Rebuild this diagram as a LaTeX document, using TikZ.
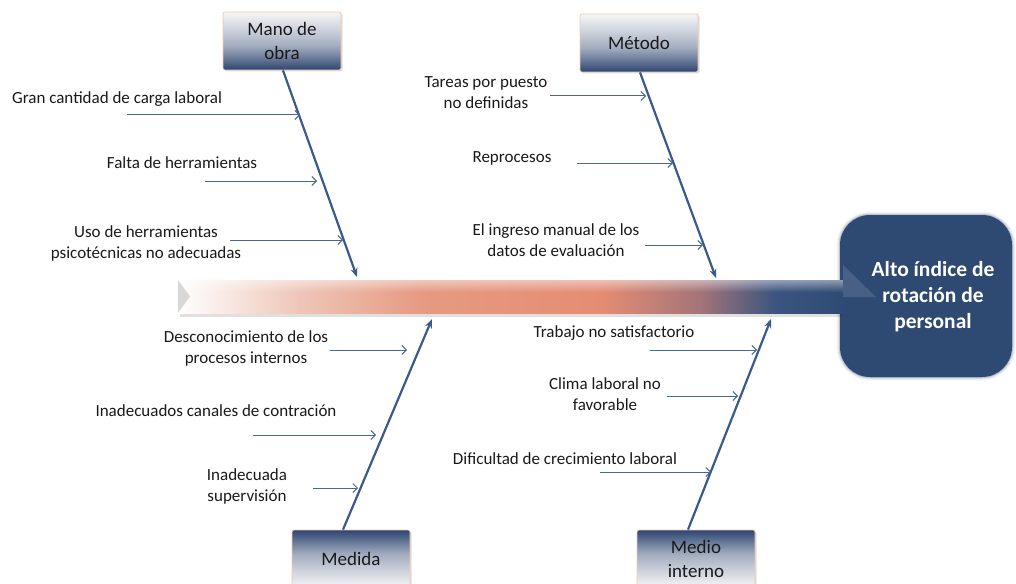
\documentclass[tikz,border=0pt]{standalone}
\usepackage{fontspec}
\setmainfont{Carlito}
\usetikzlibrary{arrows.meta,shadows,fadings}

\definecolor{bonecol}{HTML}{3A5A8C}
\definecolor{causecol}{HTML}{4A6894}
\definecolor{effectcol}{HTML}{2F4A72}
\definecolor{boxnavy}{HTML}{2C4470}
\definecolor{boxmidA}{HTML}{5C6E90}
\definecolor{boxmidB}{HTML}{A3ADBF}
\definecolor{boxmidC}{HTML}{D3D7E0}
\definecolor{boxlight}{HTML}{F6F6F8}
\definecolor{boxedge}{HTML}{F0C9AE}
\definecolor{salmonA}{HTML}{EEC6B8}
\definecolor{salmonB}{HTML}{E69A83}
\definecolor{salmonC}{HTML}{E58D73}
\definecolor{dusk}{HTML}{A47478}
\definecolor{spinenavy}{HTML}{3B5580}
\definecolor{notchgrey}{HTML}{D8D8D8}

% light top, dark bottom (upper category boxes)
\pgfdeclareverticalshading{lightontop}{100bp}{color(0bp)=(boxnavy); color(25bp)=(boxnavy);
  color(33bp)=(boxmidA); color(46bp)=(boxmidB); color(62bp)=(boxmidC); color(75bp)=(boxlight); color(100bp)=(boxlight)}
% dark top, light bottom (lower category boxes)
\pgfdeclareverticalshading{darkontop}{100bp}{color(0bp)=(boxlight); color(25bp)=(boxlight);
  color(38bp)=(boxmidC); color(54bp)=(boxmidB); color(67bp)=(boxmidA); color(75bp)=(boxnavy); color(100bp)=(boxnavy)}

\tikzset{
  catbox/.style={draw=boxedge, line width=0.8pt, rounded corners=2pt,
    minimum width=118pt, minimum height=58pt, inner sep=0pt, align=center,
    font=\fontsize{19}{24}\selectfont, text=black!90,
    drop shadow={opacity=0.25, shadow xshift=1.5pt, shadow yshift=-1.5pt}},
  cattop/.style={catbox, shading=lightontop},
  catbottom/.style={catbox, shading=darkontop},
  causetext/.style={inner sep=0pt, align=center, text=black!90,
    font=\fontsize{17}{21}\selectfont},
  bonearrow/.style={draw=bonecol, line width=2.2pt,
    -{Stealth[length=9pt, width=7pt]}},
  causearrow/.style={draw=causecol, line width=1pt,
    -{Straight Barb[length=4.5pt, width=9pt]}},
  effectbox/.style={fill=effectcol, rounded corners=30pt, minimum width=172pt,
    minimum height=162pt, inner sep=0pt, align=center, text=white,
    font=\fontsize{21.5}{26}\selectfont\bfseries}
}

\begin{document}
\begin{tikzpicture}[x=1pt, y=-1pt]
\useasboundingbox (0,0) rectangle (1016,583);

% effect box with a soft halo
\foreach \w/\o in {7/0.06, 5/0.1, 3/0.16, 1.5/0.25}
  \draw[draw=boxmidA, line width=\w pt, opacity=\o, rounded corners=30pt]
    (840,215) rectangle (1012,377);
\node[effectbox] (effect) at (926,296) {};
\node[inner sep=0pt, align=center, text=white,
  font=\fontsize{21.5}{26}\selectfont\bfseries] (effecttext) at (933,297)
  {Alto índice de\\rotación de\\personal};

% spine: shadow, graded shaft, notch and head
\fill[black, opacity=0.12] (180,313) rectangle (846,317);
\begin{scope}
  \clip (178,280) rectangle (846,313);
  \shade[left color=white, right color=salmonA] (177,280) rectangle (300,313);
  \shade[left color=salmonA, right color=salmonB] (300,280) rectangle (420,313);
  \shade[left color=salmonB, right color=salmonC] (420,280) rectangle (600,313);
  \shade[left color=salmonC, right color=dusk] (600,280) rectangle (700,313);
  \shade[left color=dusk, right color=spinenavy] (700,280) rectangle (775,313);
  \shade[left color=spinenavy, right color=effectcol] (775,280) rectangle (847,313);
  \fill[white, path fading=south, fill opacity=0.45] (178,280) rectangle (846,292);
\end{scope}
\fill[notchgrey] (178,280) -- (190,296.5) -- (178,313) -- cycle;
\fill[effectcol] (843,265) -- (876,297) -- (843,329) -- cycle;
\fill[white, opacity=0.12] (843,265) -- (876,297) -- (843,297) -- cycle;

% category boxes
\node[cattop] (mano) at (282,41) {Mano de\\obra};
\node[cattop] (metodo) at (639,43) {Método};
\node[catbottom] (medida) at (351,559) {Medida};
\node[catbottom] (medio) at (696,559) {Medio\\interno};

% bone tips on the spine
\coordinate (manoHead) at (357,277);
\coordinate (metodoHead) at (716,278);
\coordinate (medidaHead) at (432,319);
\coordinate (medioHead) at (771,319);

\draw[bonearrow] (mano.south) ++(1,0) coordinate (manoTail) -- (manoHead);
\draw[bonearrow] (metodo.south) ++(1,0) coordinate (metodoTail) -- (metodoHead);
\draw[bonearrow] (medida.north) ++(-8,0) coordinate (medidaTail) -- (medidaHead);
\draw[bonearrow] (medio.north) ++(-8,0) coordinate (medioTail) -- (medioHead);

% causes: Mano de obra
\node[causetext] (m1) at (117,99) {Gran cantidad de carga laboral};
\node[causetext] (m2) at (182,163) {Falta de herramientas};
\node[causetext] (m3) at (146,243) {Uso de herramientas\\psicotécnicas no adecuadas};
\coordinate (m1s) at (127,115); \coordinate (m1e) at (300,115);
\coordinate (m2s) at (205,181); \coordinate (m2e) at (317,181);
\coordinate (m3s) at (230,240); \coordinate (m3e) at (343,240);
\draw[causearrow] (m1s) -- (m1e);
\draw[causearrow] (m2s) -- (m2e);
\draw[causearrow] (m3s) -- (m3e);

% causes: Método
\node[causetext] (t1) at (486,92.5) {Tareas por puesto\\no definidas};
\node[causetext] (t2) at (512,158) {Reprocesos};
\node[causetext] (t3) at (556,240.5) {El ingreso manual de los\\datos de evaluación};
\coordinate (t1s) at (550,96); \coordinate (t1e) at (646,96);
\coordinate (t2s) at (577,163); \coordinate (t2e) at (673,163);
\coordinate (t3s) at (645,245); \coordinate (t3e) at (703,245);
\draw[causearrow] (t1s) -- (t1e);
\draw[causearrow] (t2s) -- (t2e);
\draw[causearrow] (t3s) -- (t3e);

% causes: Medida
\node[causetext] (d1) at (246,348.5) {Desconocimiento de los\\procesos internos};
\node[causetext] (d2) at (216,411) {Inadecuados canales de contración};
\node[causetext] (d3) at (247,486) {Inadecuada\\supervisión};
\coordinate (d1s) at (330,350); \coordinate (d1e) at (407,350);
\coordinate (d2s) at (253,435); \coordinate (d2e) at (376,435);
\coordinate (d3s) at (313,488); \coordinate (d3e) at (358,488);
\draw[causearrow] (d1s) -- (d1e);
\draw[causearrow] (d2s) -- (d2e);
\draw[causearrow] (d3s) -- (d3e);

% causes: Medio interno
\node[causetext] (i1) at (614,333) {Trabajo no satisfactorio};
\node[causetext] (i2) at (605,394) {Clima laboral no\\favorable};
\node[causetext] (i3) at (565,459) {Dificultad de crecimiento laboral};
\coordinate (i1s) at (650,350); \coordinate (i1e) at (757,350);
\coordinate (i2s) at (667,396); \coordinate (i2e) at (738,396);
\coordinate (i3s) at (600,472); \coordinate (i3e) at (711,472);
\draw[causearrow] (i1s) -- (i1e);
\draw[causearrow] (i2s) -- (i2e);
\draw[causearrow] (i3s) -- (i3e);
\end{tikzpicture}
\end{document}
